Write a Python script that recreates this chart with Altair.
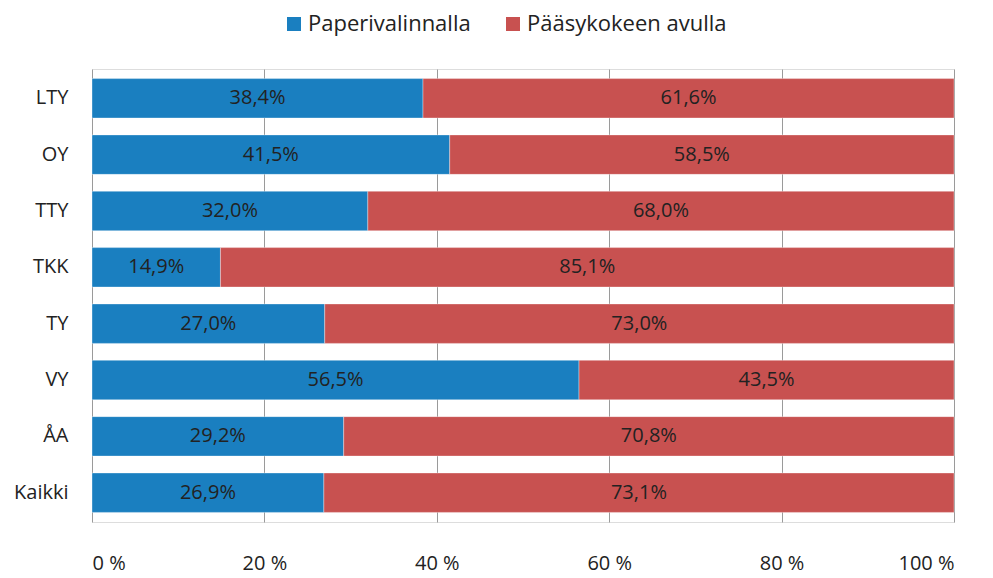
import altair as alt
import pandas as pd

categories = ["LTY", "OY", "TTY", "TKK", "TY", "VY", "ÅA", "Kaikki"]
paperi = [38.4, 41.5, 32.0, 14.9, 27.0, 56.5, 29.2, 26.9]
paasy = [61.6, 58.5, 68.0, 85.1, 73.0, 43.5, 70.8, 73.1]
series = ["Paperivalinnalla", "Pääsykokeen avulla"]
colors = ["#1a7fc0", "#c85150"]

rows = []
for c, a, b in zip(categories, paperi, paasy):
    rows.append({"cat": c, "series": series[0], "value": a, "ord": 0})
    rows.append({"cat": c, "series": series[1], "value": b, "ord": 1})
df = pd.DataFrame(rows)

FONT = "Open Sans"

base = alt.Chart(df).transform_stack(
    stack="value", groupby=["cat"], as_=["x0", "x1"], sort=[alt.SortField("ord")]
).transform_calculate(
    mid="(datum.x0 + datum.x1) / 2",
    lab="replace(format(datum.value, '.1f'), '.', ',') + '%'",
)

yenc = alt.Y("cat:N", sort=categories, title=None,
             scale=alt.Scale(paddingInner=0.3, paddingOuter=0.17),
             axis=alt.Axis(labelFont=FONT, labelFontSize=20, labelColor="#222",
                           labelPadding=24, ticks=False, domain=False))

bars = base.mark_bar(stroke="#ffffff", strokeOpacity=0.35, strokeWidth=1).encode(
    x=alt.X("x0:Q", scale=alt.Scale(domain=[0, 100], nice=False), title=None,
            axis=alt.Axis(values=[0, 20, 40, 60, 80, 100],
                          labelExpr="datum.value + ' %'",
                          labelFont=FONT, labelFontSize=20, labelColor="#222",
                          labelPadding=31, ticks=False, domain=False,
                          grid=True, gridColor="#9a9a9a", gridWidth=1)),
    x2="x1:Q",
    y=yenc,
    color=alt.Color("series:N", sort=series,
                    scale=alt.Scale(domain=series, range=colors),
                    legend=alt.Legend(title=None, orient="none", direction="horizontal",
                                      legendX=191, legendY=-56,
                                      symbolType="square", symbolSize=196,
                                      symbolStrokeWidth=0,
                                      labelFont=FONT, labelFontSize=22,
                                      labelColor="#222", columnPadding=31,
                                      labelOffset=3, labelLimit=400)),
    order=alt.Order("ord:Q"),
)

text = base.mark_text(font=FONT, fontSize=20, color="#222222").encode(
    x=alt.X("mid:Q"),
    y=alt.Y("cat:N", sort=categories),
    text="lab:N",
)

chart = alt.layer(bars, text).properties(
    width=862, height=453,
    autosize=alt.AutoSizeParams(type="none"),
    padding={"left": 84, "top": 61, "right": 30, "bottom": 55},
).configure_view(stroke=None).configure(background="white")

chart.save("out.html", embed_options={"renderer": "svg", "actions": False})
